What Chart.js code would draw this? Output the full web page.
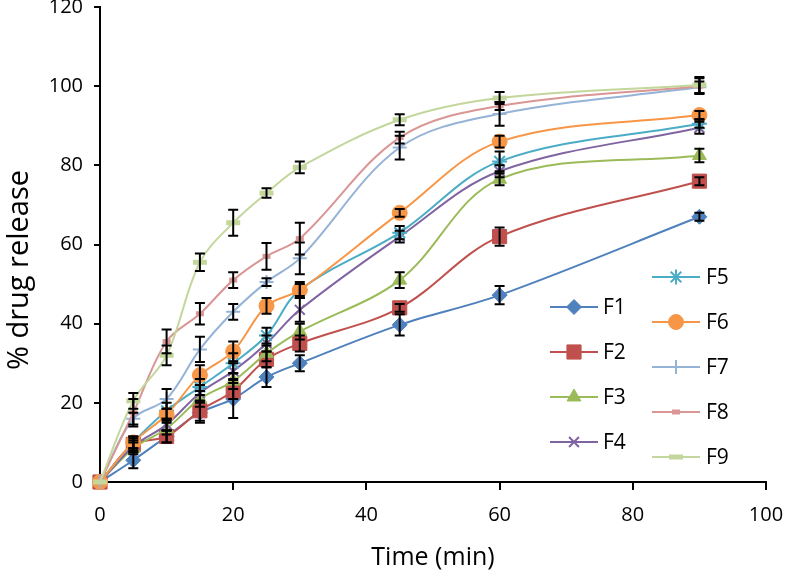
<!DOCTYPE html>
<html><head><meta charset="utf-8">
<script src="https://cdn.jsdelivr.net/npm/chart.js@4/dist/chart.umd.min.js"></script>
<style>html,body{margin:0;padding:0;background:#fff}#wrap{width:786px;height:574px;position:relative}</style>
</head><body><div id="wrap"><canvas id="c" width="786" height="574"></canvas></div>
<script>
// ---- data ----
const times = [0, 5, 10, 15, 20, 25, 30, 45, 60, 90];
const seriesNames = ['F1', 'F2', 'F3', 'F4', 'F5', 'F6', 'F7', 'F8', 'F9'];
const f1 = [0, 5.5, 11.5, 17.5, 21, 26.5, 30, 39.7, 47.2, 67];
const f2 = [0, 9.5, 11.5, 18, 23, 31, 35, 44, 62, 76];
const f3 = [0, 8.5, 13.5, 21, 25.5, 32.5, 38, 51, 76.5, 82.5];
const f4 = [0, 9, 14.5, 22.5, 28, 35, 43.5, 62, 78.5, 89.5];
const f5 = [0, 10, 18, 24, 30, 37, 48.5, 63, 81, 90.5];
const f6 = [0, 10, 17, 27, 33, 44.5, 48.5, 68, 86, 92.7];
const f7 = [0, 16, 21, 33.5, 43, 50.5, 56.5, 84.5, 93, 99.7];
const f8 = [0, 17.5, 35.5, 42.5, 51, 57, 61.5, 87, 95, 100];
const f9 = [0, 20.5, 32, 55.5, 65.5, 73, 79.5, 91.5, 97, 100.3];
const f1Err = [0, 2, 1.5, 2.5, 4.8, 2.5, 2, 2.7, 2.3, 1];
const f2Err = [0, 1.5, 1.5, 2.5, 2, 2, 2, 1, 2.3, 1];
const f3Err = [0, 1.5, 1.5, 2, 2, 2, 2, 2, 1.5, 1.7];
const f4Err = [0, 1.5, 1.5, 2, 2, 2, 3, 1.5, 1.5, 1.5];
const f5Err = [0, 1.5, 2, 2, 2.5, 2, 2, 1.7, 2.5, 1];
const f6Err = [0, 1.5, 1.5, 2.5, 2.5, 2, 1.5, 1, 1.5, 1];
const f7Err = [0, 1.5, 2.5, 3.2, 2, 1, 4, 3, 3, 1.5];
const f8Err = [0, 3.5, 3, 2.7, 2, 3.4, 4, 1.5, 1, 2];
const f9Err = [0, 2, 2.5, 2.2, 3.3, 1.2, 1.5, 1.4, 1.5, 2];
const xTicks = [0, 20, 40, 60, 80, 100];
const yTicks = [0, 20, 40, 60, 80, 100, 120];
const xTitle = 'Time (min)';
const yTitle = '% drug release';

// ---- styles ----
const values = [f1, f2, f3, f4, f5, f6, f7, f8, f9];
const errors = [f1Err, f2Err, f3Err, f4Err, f5Err, f6Err, f7Err, f8Err, f9Err];
const colors = ['#4F81BD', '#C0504D', '#9BBB59', '#8064A2', '#4BACC6', '#F79646', '#95B3D7', '#D99694', '#C3D69B'];
const markers = [
  {pointStyle: 'rectRot', radius: 7.5, borderWidth: 1},
  {pointStyle: 'rect', radius: 10, borderWidth: 1},
  {pointStyle: 'triangle', radius: 8, borderWidth: 1},
  {pointStyle: 'crossRot', radius: 7, borderWidth: 2},
  {pointStyle: 'star', radius: 7.5, borderWidth: 2},
  {pointStyle: 'circle', radius: 7.5, borderWidth: 1},
  {pointStyle: 'cross', radius: 7, borderWidth: 2},
  {pointStyle: 'line', radius: 4, borderWidth: 5},
  {pointStyle: 'line', radius: 7, borderWidth: 5}
];
const FONT = "'Open Sans', 'Noto Sans', sans-serif";

const datasets = seriesNames.map((name, i) => ({
  label: name,
  data: times.map((t, k) => ({x: t, y: values[i][k]})),
  errors: errors[i],
  borderColor: colors[i],
  backgroundColor: colors[i],
  pointBackgroundColor: colors[i],
  pointBorderColor: colors[i],
  pointStyle: markers[i].pointStyle,
  pointRadius: markers[i].radius,
  pointBorderWidth: markers[i].borderWidth,
  borderWidth: 2,
  tension: 0.35,
  fill: false,
  clip: false,
  order: 8 - i
}));

const errorBars = {
  id: 'errorBars',
  afterDatasetsDraw(chart) {
    const ctx = chart.ctx, xs = chart.scales.x, ys = chart.scales.y;
    ctx.save();
    ctx.strokeStyle = '#000';
    ctx.lineWidth = 2;
    chart.data.datasets.forEach(ds => {
      ds.data.forEach((p, k) => {
        const e = ds.errors[k];
        if (!e) return;
        const px = xs.getPixelForValue(p.x);
        const top = ys.getPixelForValue(p.y + e), bot = ys.getPixelForValue(p.y - e);
        ctx.beginPath();
        ctx.moveTo(px, top); ctx.lineTo(px, bot);
        ctx.moveTo(px - 5, top); ctx.lineTo(px + 5, top);
        ctx.moveTo(px - 5, bot); ctx.lineTo(px + 5, bot);
        ctx.stroke();
      });
    });
    ctx.restore();
  }
};

const legendAndTitles = {
  id: 'legendAndTitles',
  afterDraw(chart) {
    const ctx = chart.ctx, area = chart.chartArea;
    ctx.save();
    // legend, two columns
    const cols = [
      {x1: 550, x2: 598, tx: 603, items: [0, 1, 2, 3], y0: 307},
      {x1: 652, x2: 700, tx: 706, items: [4, 5, 6, 7, 8], y0: 277}
    ];
    ctx.font = "21px " + FONT;
    ctx.textBaseline = 'middle';
    ctx.textAlign = 'left';
    cols.forEach(col => {
      col.items.forEach((si, r) => {
        const y = col.y0 + r * 45;
        ctx.strokeStyle = colors[si];
        ctx.fillStyle = colors[si];
        ctx.lineWidth = 2;
        ctx.beginPath(); ctx.moveTo(col.x1, y); ctx.lineTo(col.x2, y); ctx.stroke();
        const m = markers[si];
        ctx.lineWidth = m.borderWidth;
        Chart.helpers.drawPoint(ctx, {pointStyle: m.pointStyle, radius: m.radius, borderWidth: m.borderWidth, rotation: 0}, (col.x1 + col.x2) / 2, y);
        ctx.fillStyle = '#000';
        ctx.fillText(seriesNames[si], col.tx, y + 1);
      });
    });
    // axis titles
    ctx.fillStyle = '#000';
    ctx.font = "25px " + FONT;
    ctx.textAlign = 'center';
    ctx.textBaseline = 'alphabetic';
    ctx.fillText(xTitle, (area.left + area.right) / 2, 565);
    ctx.font = "29px " + FONT;
    ctx.translate(28, 270);
    ctx.rotate(-Math.PI / 2);
    ctx.fillText(yTitle, 0, 0);
    ctx.restore();
  }
};

new Chart(document.getElementById('c'), {
  type: 'line',
  data: {datasets},
  plugins: [errorBars, legendAndTitles],
  options: {
    responsive: false,
    animation: false,
    devicePixelRatio: 1,
    layout: {autoPadding: false, padding: {top: 7, right: 20, left: 0, bottom: 0}},
    plugins: {legend: {display: false}, tooltip: {enabled: false}},
    scales: {
      x: {
        type: 'linear', min: 0, max: 100,
        afterBuildTicks: s => { s.ticks = xTicks.map(v => ({value: v})); },
        afterFit: s => { s.height = 92; s.paddingLeft = 0; s.paddingRight = 0; },
        ticks: {color: '#000', font: {family: FONT, size: 20}, padding: 13, maxRotation: 0},
        grid: {drawOnChartArea: false, drawTicks: true, tickLength: 8, color: '#000', lineWidth: 2},
        border: {display: true, color: '#000', width: 2}
      },
      y: {
        type: 'linear', min: 0, max: 120,
        afterBuildTicks: s => { s.ticks = yTicks.map(v => ({value: v})); },
        afterFit: s => { s.width = 100; s.paddingTop = 0; s.paddingBottom = 0; },
        ticks: {color: '#000', font: {family: FONT, size: 20}, padding: 11},
        grid: {drawOnChartArea: false, drawTicks: true, tickLength: 6, color: '#000', lineWidth: 2},
        border: {display: true, color: '#000', width: 2}
      }
    }
  }
});
</script>
</body></html>
